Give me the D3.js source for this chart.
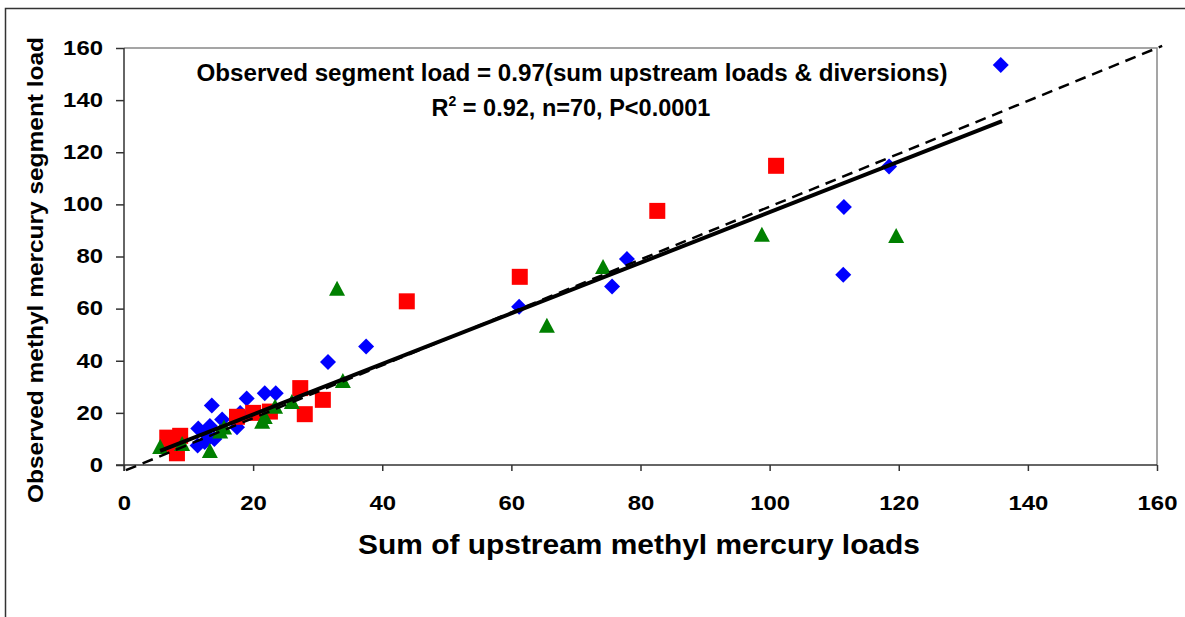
<!DOCTYPE html>
<html><head><meta charset="utf-8">
<script src="https://cdn.jsdelivr.net/npm/d3@7"></script>
<style>body{margin:0;background:#fff}svg{display:block}text{font-family:"Liberation Sans",Arial,sans-serif;font-weight:bold;fill:#000}</style>
</head><body>
<script>
const xTicks = [0,20,40,60,80,100,120,140,160];
const yTicks = [0,20,40,60,80,100,120,140,160];
const blueX = [135.8,118.5,111.5,111.4,77.9,75.6,61.2,37.5,31.6,21.8,23.5,19.0,13.6,18.0,15.2,17.5,11.5,13.3,12.8,11.4,12.5,14.0];
const blueY = [153.5,114.5,99.0,73.0,79.0,68.5,60.7,45.5,39.5,27.5,27.5,25.5,22.8,20.0,17.5,14.5,14.0,15.0,11.5,7.5,8.8,10.0];
const redX = [101.0,82.6,61.3,43.8,27.3,30.8,28.0,22.6,17.5,20.0,6.7,8.7,8.2,7.2];
const redY = [114.8,97.5,72.2,62.8,29.5,25.0,19.5,20.5,18.5,20.0,10.5,11.2,4.5,8.0];
const greenX = [119.6,98.8,74.2,65.5,33.0,33.9,26.0,23.4,21.4,21.8,14.9,13.3,9.0,5.6,15.5];
const greenY = [87.5,88.0,75.6,53.0,67.2,31.8,23.8,22.0,16.2,18.0,12.5,5.0,7.7,6.5,14.0];
const fitX = [5.6,136];
const fitSlope = 0.97;
const oneX = [0.3,160.8];
const oneY = [-2,160.8];
const titleLine1 = "Observed segment load = 0.97(sum upstream loads & diversions)";
const xTitle = "Sum of upstream methyl mercury loads";
const yTitle = "Observed methyl mercury segment load";

const W=1185,H=617;
const svg=d3.select("body").append("svg").attr("width",W).attr("height",H);
svg.append("rect").attr("x",5.5).attr("y",8.5).attr("width",W+10).attr("height",H+10)
  .attr("fill","none").attr("stroke","#333").attr("stroke-width",1.5);

const x=d3.scaleLinear().domain([0,160]).range([124,1157]);
const y=d3.scaleLinear().domain([0,160]).range([465,48]);

svg.append("path").attr("d",`M${x(0)},${y(160)}H${x(160)}V${y(0)}`).attr("fill","none").attr("stroke","#888").attr("stroke-width",1.5);

const xa=svg.append("g").attr("transform",`translate(0,${y(0)})`).call(d3.axisBottom(x).tickValues(xTicks).tickSize(6).tickPadding(39).tickSizeOuter(0));
const ya=svg.append("g").attr("transform",`translate(${x(0)},0)`).call(d3.axisLeft(y).tickValues(yTicks).tickSize(8).tickPadding(13).tickSizeOuter(0));
[xa,ya].forEach(a=>{a.selectAll("path,line").attr("stroke","#333").attr("stroke-width",1.5);
  a.selectAll("text").style("font-size","19.5px").style("font-family","Liberation Sans, Arial, sans-serif").style("font-weight","bold").attr("fill","#000")
   .attr("textLength",d=>String(d).length*13.3).attr("lengthAdjust","spacingAndGlyphs");});
xa.selectAll("text").attr("dy",null);
ya.select(".domain").attr("d",`M0,${y(160)}V${y(0)+6}`);
xa.select(".domain").attr("d",`M${x(0)-8},0H${x(160)}`);

const g=svg.append("g");
g.selectAll(".b").data(blueX.map((v,i)=>[v,blueY[i]])).join("path")
  .attr("d",`M0,-8L8,0L0,8L-8,0Z`)
  .attr("transform",d=>`translate(${x(d[0])},${y(d[1])})`).attr("fill","#0000ff");
g.selectAll(".r").data(redX.map((v,i)=>[v,redY[i]])).join("rect")
  .attr("x",d=>x(d[0])-8).attr("y",d=>y(d[1])-8).attr("width",16).attr("height",16).attr("fill","#ff0000");
g.selectAll(".g").data(greenX.map((v,i)=>[v,greenY[i]])).join("path")
  .attr("d","M0,-9L8,6L-8,6Z")
  .attr("transform",d=>`translate(${x(d[0])},${y(d[1])})`).attr("fill","#008000");

svg.append("line").attr("x1",x(oneX[0])).attr("y1",y(oneY[0])).attr("x2",x(oneX[1])).attr("y2",y(oneY[1]))
  .attr("stroke","#000").attr("stroke-width",2.5).attr("stroke-dasharray","11,7");
svg.append("line").attr("x1",x(fitX[0])).attr("y1",y(fitX[0]*fitSlope)).attr("x2",x(fitX[1])).attr("y2",y(fitX[1]*fitSlope))
  .attr("stroke","#000").attr("stroke-width",4);

svg.append("text").attr("x",572).attr("y",81).attr("text-anchor","middle").style("font-size","23.5px")
  .attr("textLength",751).attr("lengthAdjust","spacingAndGlyphs").text(titleLine1);
const t2=svg.append("text").attr("x",571).attr("y",116).attr("text-anchor","middle").style("font-size","23.5px");
t2.append("tspan").text("R");
t2.append("tspan").attr("dy",-10).style("font-size","14px").text("2");
t2.append("tspan").attr("dy",10).text(" = 0.92, n=70, P<0.0001");

svg.append("text").attr("x",639).attr("y",554).attr("text-anchor","middle").style("font-size","28px")
  .attr("textLength",562).attr("lengthAdjust","spacingAndGlyphs").text(xTitle);
svg.append("text").attr("transform","translate(43,270) rotate(-90)").attr("text-anchor","middle").style("font-size","22px")
  .attr("textLength",466).attr("lengthAdjust","spacingAndGlyphs").text(yTitle);
</script>
</body></html>
